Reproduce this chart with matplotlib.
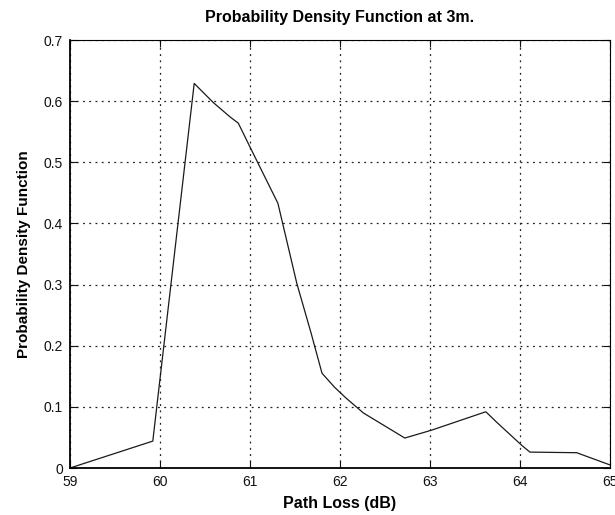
import matplotlib
matplotlib.use('Agg')
import matplotlib.pyplot as plt
import numpy as np

plt.rcParams['font.family'] = ['Liberation Sans', 'DejaVu Sans']

# values
path_loss = [59.0, 59.92, 60.38, 60.59, 60.78, 60.87, 61.0, 61.31, 61.52,
             61.68, 61.8, 61.94, 62.07, 62.26, 62.72, 63.02, 63.62, 63.74,
             64.02, 64.11, 64.63, 65.0]
pdf = [0.0, 0.044, 0.629, 0.598, 0.574, 0.564, 0.525, 0.433, 0.302,
       0.22, 0.155, 0.132, 0.114, 0.09, 0.049, 0.062, 0.092, 0.075,
       0.037, 0.026, 0.025, 0.005]
x_ticks = [59, 60, 61, 62, 63, 64, 65]
y_ticks = [0, 0.1, 0.2, 0.3, 0.4, 0.5, 0.6, 0.7]
y_ticklabels = ['0', '0.1', '0.2', '0.3', '0.4', '0.5', '0.6', '0.7']

fig = plt.figure(figsize=(6.15, 5.15), dpi=100)
ax = fig.add_axes([70 / 615, 47 / 515, 540 / 615, 428 / 515])

ax.plot(path_loss, pdf, color='#1a1a1a', linewidth=0.9)

ax.set_xlim(59, 65)
ax.set_ylim(0, 0.7)
ax.set_xticks(x_ticks)
ax.set_yticks(y_ticks)
ax.set_yticklabels(y_ticklabels)
ax.tick_params(direction='in', length=5, top=True, right=True,
               labelsize=10, colors='#111', pad=5)

ax.grid(True, color='#222', linestyle=(0, (1.5, 3.5)), linewidth=0.9)
for side in ['left', 'bottom']:
    ax.spines[side].set_linewidth(1.3)
for side in ['top', 'right']:
    ax.spines[side].set_linewidth(0.8)

ax.set_title('Probability Density Function at 3m.', fontsize=11.5,
             fontweight='bold', pad=13)
ax.set_xlabel('Path Loss (dB)', fontsize=11.5, fontweight='bold', labelpad=5)
ax.set_ylabel('Probability Density Function', fontsize=11,
              fontweight='bold', labelpad=9)

fig.savefig('out.png', dpi=100)
